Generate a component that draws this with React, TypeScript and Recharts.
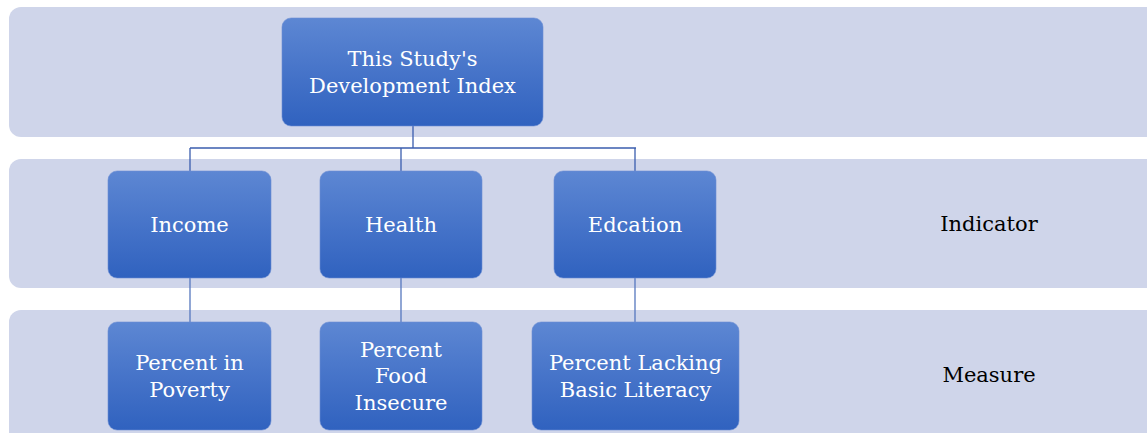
import React from "react";
import {
  ComposedChart,
  XAxis,
  YAxis,
  Scatter,
  ReferenceArea,
  ReferenceLine,
} from "recharts";

const W = 1147;
const H = 433;

// Tier bands (level name, top, bottom)
const bandNames = ["Index", "Indicator", "Measure"];
const bandTop = [7, 159, 310];
const bandBottom = [137, 288, 445];

// Nodes: label lines and box extents
const nodeLabels: string[][] = [
  ["This Study's", "Development Index"],
  ["Income"],
  ["Health"],
  ["Edcation"],
  ["Percent in", "Poverty"],
  ["Percent", "Food", "Insecure"],
  ["Percent Lacking", "Basic Literacy"],
];
const nodeLeft = [282, 108, 320, 554, 108, 320, 532];
const nodeRight = [543, 271, 482, 716, 271, 482, 739];
const nodeTop = [18, 171, 171, 171, 322, 322, 322];
const nodeBottom = [126, 278, 278, 278, 430, 430, 430];

// Connectors
const linkFrom = [
  [413, 126],
  [190, 148],
  [190, 148],
  [401, 148],
  [635, 148],
  [190, 278],
  [401, 278],
  [635, 278],
];
const linkTo = [
  [413, 148],
  [636, 148],
  [190, 171],
  [401, 171],
  [635, 171],
  [190, 322],
  [401, 322],
  [635, 322],
];

// Side labels
const sideLabels = ["Indicator", "Measure"];
const sideX = [989, 989];
const sideY = [224, 375];

const FONT = "'DejaVu Serif', serif";
const FS = 21;

const nodeData = nodeLabels.map((lines, i) => ({
  x: (nodeLeft[i] + nodeRight[i]) / 2,
  y: (nodeTop[i] + nodeBottom[i]) / 2,
  w: nodeRight[i] - nodeLeft[i],
  h: nodeBottom[i] - nodeTop[i],
  lines,
  id: i,
}));

const sideData = sideLabels.map((t, i) => ({ x: sideX[i], y: sideY[i], t }));

const NodeShape = (props: any) => {
  const { cx, cy, payload } = props;
  if (cx == null || cy == null) return null;
  const { w, h, lines, id } = payload;
  const gid = `ng${id}`;
  const lh = 26.5;
  const n = lines.length;
  return (
    <g>
      <defs>
        <linearGradient id={gid} x1="0" y1="0" x2="0" y2="1">
          <stop offset="0%" stopColor="#5D87D3" />
          <stop offset="55%" stopColor="#4472C8" />
          <stop offset="100%" stopColor="#3062BF" />
        </linearGradient>
      </defs>
      <rect
        x={cx - w / 2}
        y={cy - h / 2}
        width={w}
        height={h}
        rx={9}
        ry={9}
        fill={`url(#${gid})`}
        stroke="#6D8FD3"
        strokeWidth={0.6}
      />
      {lines.map((l: string, k: number) => (
        <text
          key={k}
          x={cx}
          y={cy + (k - (n - 1) / 2) * lh}
          dy="0.35em"
          textAnchor="middle"
          fill="#FFFFFF"
          style={{ fontFamily: FONT, fontSize: FS }}
        >
          {l}
        </text>
      ))}
    </g>
  );
};

const SideShape = (props: any) => {
  const { cx, cy, payload } = props;
  if (cx == null || cy == null) return null;
  return (
    <text
      x={cx}
      y={cy}
      dy="0.35em"
      textAnchor="middle"
      fill="#000000"
      style={{ fontFamily: FONT, fontSize: FS }}
    >
      {payload.t}
    </text>
  );
};

export default function App() {
  return (
    <div style={{ position: "fixed", left: 0, top: 0, width: W, height: H, background: "#fff" }}>
      <ComposedChart width={W} height={H} margin={{ top: 0, right: 0, bottom: 0, left: 0 }}>
        <XAxis type="number" dataKey="x" domain={[0, W]} hide allowDataOverflow />
        <YAxis type="number" dataKey="y" domain={[0, H]} reversed hide allowDataOverflow />
        {bandNames.map((b, i) => (
          <ReferenceArea
            key={b}
            x1={9}
            x2={W + 30}
            y1={bandTop[i]}
            y2={bandBottom[i]}
            fill="#CFD5EA"
            fillOpacity={1}
            stroke="none"
            radius={12}
            ifOverflow="hidden"
          />
        ))}
        {linkFrom.map((f, i) => (
          <ReferenceLine
            key={i}
            segment={[
              { x: f[0], y: f[1] },
              { x: linkTo[i][0], y: linkTo[i][1] },
            ]}
            stroke={i < 5 ? "#3A5DAE" : "#5577BE"}
            strokeWidth={1.3}
            ifOverflow="visible"
          />
        ))}
        <Scatter data={nodeData} shape={NodeShape} isAnimationActive={false} />
        <Scatter data={sideData} shape={SideShape} isAnimationActive={false} />
      </ComposedChart>
    </div>
  );
}
